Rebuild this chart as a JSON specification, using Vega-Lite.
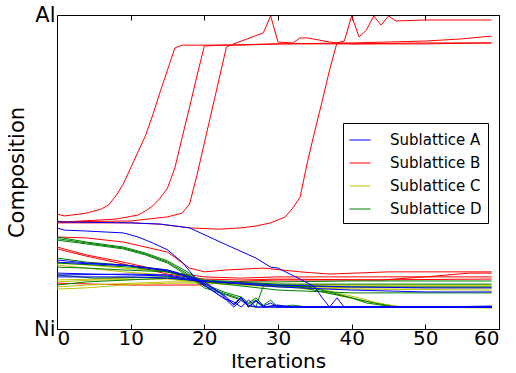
{
  "$schema": "https://vega.github.io/schema/vega-lite/v6.json",
  "width": 442,
  "height": 314,
  "autosize": {"type": "none"},
  "padding": {"left": 57, "top": 15, "right": 17, "bottom": 44},
  "background": "white",
  "config": {
    "font": "DejaVu Sans",
    "view": {"stroke": null},
    "axis": {"grid": false, "domainColor": "black", "domainWidth": 1, "tickColor": "black", "labelColor": "black", "titleColor": "black", "labelFont": "DejaVu Sans", "titleFont": "DejaVu Sans", "titleFontWeight": "normal"}
  },
  "data": {"values": [
    {"s":"B","r":"B1","x":0,"y":0.366},{"s":"B","r":"B1","x":1,"y":0.360},{"s":"B","r":"B1","x":4,"y":0.369},{"s":"B","r":"B1","x":6,"y":0.382},{"s":"B","r":"B1","x":7,"y":0.395},{"s":"B","r":"B1","x":8,"y":0.424},{"s":"B","r":"B1","x":9,"y":0.462},{"s":"B","r":"B1","x":10,"y":0.513},{"s":"B","r":"B1","x":11,"y":0.564},{"s":"B","r":"B1","x":12,"y":0.615},{"s":"B","r":"B1","x":13,"y":0.682},{"s":"B","r":"B1","x":14,"y":0.755},{"s":"B","r":"B1","x":15,"y":0.825},{"s":"B","r":"B1","x":16,"y":0.895},{"s":"B","r":"B1","x":17,"y":0.904},{"s":"B","r":"B1","x":25,"y":0.904},{"s":"B","r":"B1","x":30,"y":0.908},{"s":"B","r":"B1","x":40,"y":0.908},{"s":"B","r":"B1","x":50,"y":0.911},{"s":"B","r":"B1","x":59,"y":0.911},
    {"s":"B","r":"B2","x":0,"y":0.344},{"s":"B","r":"B2","x":1,"y":0.341},{"s":"B","r":"B2","x":8,"y":0.350},{"s":"B","r":"B2","x":11,"y":0.363},{"s":"B","r":"B2","x":12,"y":0.376},{"s":"B","r":"B2","x":13,"y":0.392},{"s":"B","r":"B2","x":14,"y":0.417},{"s":"B","r":"B2","x":15,"y":0.449},{"s":"B","r":"B2","x":16,"y":0.513},{"s":"B","r":"B2","x":17,"y":0.611},{"s":"B","r":"B2","x":18,"y":0.707},{"s":"B","r":"B2","x":19,"y":0.806},{"s":"B","r":"B2","x":20,"y":0.901},{"s":"B","r":"B2","x":22,"y":0.904},{"s":"B","r":"B2","x":30,"y":0.908},{"s":"B","r":"B2","x":40,"y":0.911},{"s":"B","r":"B2","x":50,"y":0.917},{"s":"B","r":"B2","x":55,"y":0.924},{"s":"B","r":"B2","x":59,"y":0.933},
    {"s":"B","r":"B3","x":0,"y":0.341},{"s":"B","r":"B3","x":10,"y":0.344},{"s":"B","r":"B3","x":15,"y":0.357},{"s":"B","r":"B3","x":17,"y":0.369},{"s":"B","r":"B3","x":18,"y":0.398},{"s":"B","r":"B3","x":19,"y":0.490},{"s":"B","r":"B3","x":20,"y":0.592},{"s":"B","r":"B3","x":21,"y":0.694},{"s":"B","r":"B3","x":22,"y":0.796},{"s":"B","r":"B3","x":23,"y":0.898},{"s":"B","r":"B3","x":24,"y":0.908},{"s":"B","r":"B3","x":28,"y":0.943},{"s":"B","r":"B3","x":29,"y":0.997},{"s":"B","r":"B3","x":30,"y":0.914},{"s":"B","r":"B3","x":32,"y":0.911},{"s":"B","r":"B3","x":33,"y":0.927},{"s":"B","r":"B3","x":34,"y":0.927},{"s":"B","r":"B3","x":37,"y":0.914},{"s":"B","r":"B3","x":38,"y":0.911},{"s":"B","r":"B3","x":39,"y":0.917},{"s":"B","r":"B3","x":40,"y":0.997},{"s":"B","r":"B3","x":41,"y":0.930},{"s":"B","r":"B3","x":42,"y":0.952},{"s":"B","r":"B3","x":43,"y":0.997},{"s":"B","r":"B3","x":44,"y":0.968},{"s":"B","r":"B3","x":45,"y":0.997},{"s":"B","r":"B3","x":46,"y":0.981},{"s":"B","r":"B3","x":50,"y":0.984},{"s":"B","r":"B3","x":59,"y":0.984},
    {"s":"B","r":"B4","x":0,"y":0.338},{"s":"B","r":"B4","x":10,"y":0.338},{"s":"B","r":"B4","x":14,"y":0.334},{"s":"B","r":"B4","x":18,"y":0.322},{"s":"B","r":"B4","x":22,"y":0.318},{"s":"B","r":"B4","x":25,"y":0.322},{"s":"B","r":"B4","x":27,"y":0.328},{"s":"B","r":"B4","x":29,"y":0.338},{"s":"B","r":"B4","x":31,"y":0.357},{"s":"B","r":"B4","x":32,"y":0.385},{"s":"B","r":"B4","x":33,"y":0.420},{"s":"B","r":"B4","x":34,"y":0.532},{"s":"B","r":"B4","x":35,"y":0.631},{"s":"B","r":"B4","x":36,"y":0.726},{"s":"B","r":"B4","x":37,"y":0.825},{"s":"B","r":"B4","x":38,"y":0.911},{"s":"B","r":"B4","x":40,"y":0.908},{"s":"B","r":"B4","x":50,"y":0.908},{"s":"B","r":"B4","x":59,"y":0.911},
    {"s":"B","r":"B5","x":0,"y":0.293},{"s":"B","r":"B5","x":4,"y":0.290},{"s":"B","r":"B5","x":9,"y":0.277},{"s":"B","r":"B5","x":15,"y":0.245},{"s":"B","r":"B5","x":18,"y":0.194},{"s":"B","r":"B5","x":20,"y":0.182},{"s":"B","r":"B5","x":23,"y":0.188},{"s":"B","r":"B5","x":28,"y":0.194},{"s":"B","r":"B5","x":33,"y":0.182},{"s":"B","r":"B5","x":37,"y":0.175},{"s":"B","r":"B5","x":45,"y":0.182},{"s":"B","r":"B5","x":59,"y":0.182},
    {"s":"B","r":"B6","x":0,"y":0.261},{"s":"B","r":"B6","x":4,"y":0.236},{"s":"B","r":"B6","x":9,"y":0.213},{"s":"B","r":"B6","x":15,"y":0.182},{"s":"B","r":"B6","x":20,"y":0.166},{"s":"B","r":"B6","x":25,"y":0.162},{"s":"B","r":"B6","x":30,"y":0.166},{"s":"B","r":"B6","x":59,"y":0.166},
    {"s":"B","r":"B7","x":0,"y":0.255},{"s":"B","r":"B7","x":4,"y":0.232},{"s":"B","r":"B7","x":9,"y":0.207},{"s":"B","r":"B7","x":15,"y":0.175},{"s":"B","r":"B7","x":20,"y":0.159},{"s":"B","r":"B7","x":25,"y":0.156},{"s":"B","r":"B7","x":30,"y":0.159},{"s":"B","r":"B7","x":44,"y":0.156},{"s":"B","r":"B7","x":50,"y":0.166},{"s":"B","r":"B7","x":56,"y":0.178},{"s":"B","r":"B7","x":59,"y":0.178},
    {"s":"B","r":"B8","x":0,"y":0.146},{"s":"B","r":"B8","x":5,"y":0.143},{"s":"B","r":"B8","x":10,"y":0.140},{"s":"B","r":"B8","x":19,"y":0.140},{"s":"B","r":"B8","x":22,"y":0.146},{"s":"B","r":"B8","x":26,"y":0.153},{"s":"B","r":"B8","x":30,"y":0.156},{"s":"B","r":"B8","x":40,"y":0.156},{"s":"B","r":"B8","x":59,"y":0.159},
    {"s":"C","r":"C1","x":0,"y":0.210},{"s":"C","r":"C1","x":4,"y":0.204},{"s":"C","r":"C1","x":9,"y":0.194},{"s":"C","r":"C1","x":15,"y":0.182},{"s":"C","r":"C1","x":20,"y":0.153},{"s":"C","r":"C1","x":30,"y":0.140},{"s":"C","r":"C1","x":35,"y":0.131},{"s":"C","r":"C1","x":38,"y":0.115},{"s":"C","r":"C1","x":41,"y":0.099},{"s":"C","r":"C1","x":43,"y":0.086},{"s":"C","r":"C1","x":45,"y":0.076},{"s":"C","r":"C1","x":47,"y":0.070},{"s":"C","r":"C1","x":59,"y":0.070},
    {"s":"C","r":"C2","x":0,"y":0.204},{"s":"C","r":"C2","x":4,"y":0.194},{"s":"C","r":"C2","x":9,"y":0.182},{"s":"C","r":"C2","x":15,"y":0.172},{"s":"C","r":"C2","x":20,"y":0.150},{"s":"C","r":"C2","x":30,"y":0.137},{"s":"C","r":"C2","x":35,"y":0.124},{"s":"C","r":"C2","x":38,"y":0.108},{"s":"C","r":"C2","x":41,"y":0.092},{"s":"C","r":"C2","x":44,"y":0.080},{"s":"C","r":"C2","x":47,"y":0.070},{"s":"C","r":"C2","x":59,"y":0.067},
    {"s":"C","r":"C3","x":0,"y":0.156},{"s":"C","r":"C3","x":5,"y":0.159},{"s":"C","r":"C3","x":15,"y":0.166},{"s":"C","r":"C3","x":20,"y":0.153},{"s":"C","r":"C3","x":30,"y":0.143},{"s":"C","r":"C3","x":40,"y":0.140},{"s":"C","r":"C3","x":59,"y":0.140},
    {"s":"C","r":"C4","x":0,"y":0.150},{"s":"C","r":"C4","x":5,"y":0.156},{"s":"C","r":"C4","x":15,"y":0.159},{"s":"C","r":"C4","x":20,"y":0.146},{"s":"C","r":"C4","x":30,"y":0.134},{"s":"C","r":"C4","x":40,"y":0.127},{"s":"C","r":"C4","x":59,"y":0.124},
    {"s":"C","r":"C5","x":0,"y":0.134},{"s":"C","r":"C5","x":4,"y":0.140},{"s":"C","r":"C5","x":15,"y":0.150},{"s":"C","r":"C5","x":20,"y":0.150},{"s":"C","r":"C5","x":30,"y":0.137},{"s":"C","r":"C5","x":40,"y":0.131},{"s":"C","r":"C5","x":59,"y":0.131},
    {"s":"C","r":"C6","x":0,"y":0.127},{"s":"C","r":"C6","x":4,"y":0.131},{"s":"C","r":"C6","x":9,"y":0.140},{"s":"C","r":"C6","x":15,"y":0.146},{"s":"C","r":"C6","x":20,"y":0.146},{"s":"C","r":"C6","x":30,"y":0.140},{"s":"C","r":"C6","x":40,"y":0.137},{"s":"C","r":"C6","x":59,"y":0.137},
    {"s":"D","r":"D1","x":0,"y":0.293},{"s":"D","r":"D1","x":4,"y":0.277},{"s":"D","r":"D1","x":9,"y":0.261},{"s":"D","r":"D1","x":12,"y":0.242},{"s":"D","r":"D1","x":15,"y":0.217},{"s":"D","r":"D1","x":18,"y":0.178},{"s":"D","r":"D1","x":20,"y":0.143},{"s":"D","r":"D1","x":23,"y":0.115},{"s":"D","r":"D1","x":25,"y":0.102},{"s":"D","r":"D1","x":26,"y":0.083},{"s":"D","r":"D1","x":27,"y":0.099},{"s":"D","r":"D1","x":28,"y":0.076},{"s":"D","r":"D1","x":29,"y":0.092},{"s":"D","r":"D1","x":30,"y":0.070},{"s":"D","r":"D1","x":32,"y":0.076},{"s":"D","r":"D1","x":34,"y":0.070},{"s":"D","r":"D1","x":59,"y":0.070},
    {"s":"D","r":"D2","x":0,"y":0.288},{"s":"D","r":"D2","x":4,"y":0.274},{"s":"D","r":"D2","x":9,"y":0.258},{"s":"D","r":"D2","x":12,"y":0.239},{"s":"D","r":"D2","x":15,"y":0.213},{"s":"D","r":"D2","x":18,"y":0.172},{"s":"D","r":"D2","x":20,"y":0.137},{"s":"D","r":"D2","x":23,"y":0.111},{"s":"D","r":"D2","x":25,"y":0.096},{"s":"D","r":"D2","x":26,"y":0.080},{"s":"D","r":"D2","x":27,"y":0.092},{"s":"D","r":"D2","x":28,"y":0.070},{"s":"D","r":"D2","x":30,"y":0.076},{"s":"D","r":"D2","x":31,"y":0.070},{"s":"D","r":"D2","x":59,"y":0.070},
    {"s":"D","r":"D3","x":0,"y":0.283},{"s":"D","r":"D3","x":4,"y":0.271},{"s":"D","r":"D3","x":9,"y":0.255},{"s":"D","r":"D3","x":12,"y":0.236},{"s":"D","r":"D3","x":15,"y":0.210},{"s":"D","r":"D3","x":18,"y":0.166},{"s":"D","r":"D3","x":20,"y":0.131},{"s":"D","r":"D3","x":23,"y":0.108},{"s":"D","r":"D3","x":25,"y":0.092},{"s":"D","r":"D3","x":26,"y":0.073},{"s":"D","r":"D3","x":27,"y":0.070},{"s":"D","r":"D3","x":28,"y":0.137},{"s":"D","r":"D3","x":30,"y":0.140},{"s":"D","r":"D3","x":33,"y":0.134},{"s":"D","r":"D3","x":36,"y":0.118},{"s":"D","r":"D3","x":40,"y":0.099},{"s":"D","r":"D3","x":43,"y":0.083},{"s":"D","r":"D3","x":46,"y":0.070},{"s":"D","r":"D3","x":59,"y":0.070},
    {"s":"D","r":"D4","x":0,"y":0.226},{"s":"D","r":"D4","x":4,"y":0.213},{"s":"D","r":"D4","x":9,"y":0.204},{"s":"D","r":"D4","x":15,"y":0.188},{"s":"D","r":"D4","x":20,"y":0.156},{"s":"D","r":"D4","x":25,"y":0.150},{"s":"D","r":"D4","x":30,"y":0.150},{"s":"D","r":"D4","x":40,"y":0.153},{"s":"D","r":"D4","x":59,"y":0.153},
    {"s":"D","r":"D5","x":0,"y":0.197},{"s":"D","r":"D5","x":4,"y":0.194},{"s":"D","r":"D5","x":9,"y":0.188},{"s":"D","r":"D5","x":15,"y":0.182},{"s":"D","r":"D5","x":20,"y":0.153},{"s":"D","r":"D5","x":30,"y":0.143},{"s":"D","r":"D5","x":40,"y":0.143},{"s":"D","r":"D5","x":59,"y":0.143},
    {"s":"D","r":"D6","x":0,"y":0.172},{"s":"D","r":"D6","x":5,"y":0.162},{"s":"D","r":"D6","x":15,"y":0.166},{"s":"D","r":"D6","x":20,"y":0.153},{"s":"D","r":"D6","x":30,"y":0.137},{"s":"D","r":"D6","x":40,"y":0.134},{"s":"D","r":"D6","x":59,"y":0.134},
    {"s":"D","r":"D7","x":0,"y":0.140},{"s":"D","r":"D7","x":4,"y":0.150},{"s":"D","r":"D7","x":15,"y":0.162},{"s":"D","r":"D7","x":20,"y":0.150},{"s":"D","r":"D7","x":30,"y":0.124},{"s":"D","r":"D7","x":40,"y":0.115},{"s":"D","r":"D7","x":59,"y":0.115},
    {"s":"D","r":"D8","x":0,"y":0.210},{"s":"D","r":"D8","x":5,"y":0.204},{"s":"D","r":"D8","x":10,"y":0.197},{"s":"D","r":"D8","x":15,"y":0.182},{"s":"D","r":"D8","x":20,"y":0.150},{"s":"D","r":"D8","x":30,"y":0.137},{"s":"D","r":"D8","x":34,"y":0.134},{"s":"D","r":"D8","x":37,"y":0.118},{"s":"D","r":"D8","x":40,"y":0.099},{"s":"D","r":"D8","x":42,"y":0.083},{"s":"D","r":"D8","x":44,"y":0.076},{"s":"D","r":"D8","x":46,"y":0.070},{"s":"D","r":"D8","x":59,"y":0.070},
    {"s":"A","r":"A1","x":0,"y":0.322},{"s":"A","r":"A1","x":1,"y":0.315},{"s":"A","r":"A1","x":4,"y":0.312},{"s":"A","r":"A1","x":9,"y":0.306},{"s":"A","r":"A1","x":11,"y":0.293},{"s":"A","r":"A1","x":13,"y":0.274},{"s":"A","r":"A1","x":15,"y":0.252},{"s":"A","r":"A1","x":17,"y":0.213},{"s":"A","r":"A1","x":19,"y":0.156},{"s":"A","r":"A1","x":20,"y":0.140},{"s":"A","r":"A1","x":22,"y":0.108},{"s":"A","r":"A1","x":24,"y":0.080},{"s":"A","r":"A1","x":25,"y":0.102},{"s":"A","r":"A1","x":26,"y":0.070},{"s":"A","r":"A1","x":27,"y":0.089},{"s":"A","r":"A1","x":28,"y":0.070},{"s":"A","r":"A1","x":30,"y":0.076},{"s":"A","r":"A1","x":32,"y":0.070},{"s":"A","r":"A1","x":59,"y":0.070},
    {"s":"A","r":"A2","x":0,"y":0.341},{"s":"A","r":"A2","x":10,"y":0.338},{"s":"A","r":"A2","x":14,"y":0.334},{"s":"A","r":"A2","x":18,"y":0.322},{"s":"A","r":"A2","x":23,"y":0.268},{"s":"A","r":"A2","x":27,"y":0.226},{"s":"A","r":"A2","x":29,"y":0.197},{"s":"A","r":"A2","x":30,"y":0.194},{"s":"A","r":"A2","x":33,"y":0.159},{"s":"A","r":"A2","x":35,"y":0.134},{"s":"A","r":"A2","x":36,"y":0.099},{"s":"A","r":"A2","x":37,"y":0.070},{"s":"A","r":"A2","x":38,"y":0.099},{"s":"A","r":"A2","x":39,"y":0.070},{"s":"A","r":"A2","x":50,"y":0.070},{"s":"A","r":"A2","x":59,"y":0.073},
    {"s":"A","r":"A3","x":0,"y":0.220},{"s":"A","r":"A3","x":4,"y":0.210},{"s":"A","r":"A3","x":9,"y":0.204},{"s":"A","r":"A3","x":15,"y":0.188},{"s":"A","r":"A3","x":19,"y":0.159},{"s":"A","r":"A3","x":21,"y":0.131},{"s":"A","r":"A3","x":23,"y":0.102},{"s":"A","r":"A3","x":24,"y":0.076},{"s":"A","r":"A3","x":25,"y":0.099},{"s":"A","r":"A3","x":26,"y":0.070},{"s":"A","r":"A3","x":27,"y":0.092},{"s":"A","r":"A3","x":28,"y":0.073},{"s":"A","r":"A3","x":29,"y":0.083},{"s":"A","r":"A3","x":30,"y":0.070},{"s":"A","r":"A3","x":59,"y":0.070},
    {"s":"A","r":"A4","x":0,"y":0.178},{"s":"A","r":"A4","x":5,"y":0.175},{"s":"A","r":"A4","x":10,"y":0.172},{"s":"A","r":"A4","x":15,"y":0.169},{"s":"A","r":"A4","x":19,"y":0.153},{"s":"A","r":"A4","x":21,"y":0.124},{"s":"A","r":"A4","x":23,"y":0.092},{"s":"A","r":"A4","x":24,"y":0.070},{"s":"A","r":"A4","x":25,"y":0.092},{"s":"A","r":"A4","x":26,"y":0.076},{"s":"A","r":"A4","x":27,"y":0.070},{"s":"A","r":"A4","x":59,"y":0.070},
    {"s":"A","r":"A6","x":0,"y":0.213},{"s":"A","r":"A6","x":5,"y":0.207},{"s":"A","r":"A6","x":10,"y":0.201},{"s":"A","r":"A6","x":15,"y":0.185},{"s":"A","r":"A6","x":20,"y":0.150},{"s":"A","r":"A6","x":22,"y":0.118},{"s":"A","r":"A6","x":23,"y":0.096},{"s":"A","r":"A6","x":24,"y":0.086},{"s":"A","r":"A6","x":25,"y":0.070},{"s":"A","r":"A6","x":26,"y":0.092},{"s":"A","r":"A6","x":27,"y":0.070},{"s":"A","r":"A6","x":59,"y":0.070},
    {"s":"A","r":"A5","x":0,"y":0.166},{"s":"A","r":"A5","x":10,"y":0.166},{"s":"A","r":"A5","x":15,"y":0.162},{"s":"A","r":"A5","x":20,"y":0.153},{"s":"A","r":"A5","x":30,"y":0.140},{"s":"A","r":"A5","x":40,"y":0.134},{"s":"A","r":"A5","x":50,"y":0.131},{"s":"A","r":"A5","x":59,"y":0.131},
    {"s":"A","r":"A7","x":0,"y":0.172},{"s":"A","r":"A7","x":10,"y":0.175},{"s":"A","r":"A7","x":15,"y":0.172},{"s":"A","r":"A7","x":20,"y":0.153},{"s":"A","r":"A7","x":30,"y":0.134},{"s":"A","r":"A7","x":40,"y":0.124},{"s":"A","r":"A7","x":50,"y":0.118},{"s":"A","r":"A7","x":59,"y":0.118}
  ]},
  "layer": [
    {
      "mark": {"type": "line", "strokeWidth": 1, "clip": true},
      "encoding": {
        "x": {"field": "x", "type": "quantitative", "scale": {"domain": [0, 60], "nice": false, "zero": false},
              "axis": {"orient": "bottom", "values": [0, 10, 20, 30, 40, 50, 60], "tickSize": -5, "labelPadding": 4, "labelFontSize": 20, "title": "Iterations", "titleFontSize": 20, "titlePadding": 3}},
        "y": {"field": "y", "type": "quantitative", "scale": {"domain": [0, 1], "nice": false, "zero": false},
              "axis": {"orient": "left", "values": [0, 1], "ticks": false, "labelPadding": 2, "labelFontSize": 21, "labelBaseline": "middle", "labelExpr": "datum.value == 0 ? 'Ni' : 'Al'", "title": "Composition", "titleFontSize": 21, "titlePadding": 6}},
        "color": {"field": "s", "type": "nominal",
                  "scale": {"domain": ["A", "B", "C", "D"], "range": ["#0000ff", "#ff0000", "#bfbf00", "#008000"]},
                  "legend": {"orient": "none", "legendX": 286, "legendY": 108, "title": null, "labelExpr": "'Sublattice ' + datum.label", "symbolType": "stroke", "symbolSize": 441, "symbolStrokeWidth": 1, "labelFontSize": 15, "labelFont": "DejaVu Sans", "labelOffset": 19, "padding": 6, "rowPadding": 4, "strokeColor": "black", "fillColor": "white", "cornerRadius": 0}},
        "detail": {"field": "r", "type": "nominal"}
      }
    },
    {
      "mark": {"type": "line", "opacity": 0},
      "encoding": {
        "x": {"field": "x", "type": "quantitative", "axis": {"orient": "top", "values": [0, 10, 20, 30, 40, 50, 60], "tickSize": -5, "labels": false, "title": null}},
        "y": {"field": "y", "type": "quantitative", "axis": {"orient": "right", "values": [0, 1], "ticks": false, "labels": false, "title": null}},
        "detail": {"field": "r", "type": "nominal"}
      }
    }
  ],
  "resolve": {"axis": {"x": "independent", "y": "independent"}}
}
